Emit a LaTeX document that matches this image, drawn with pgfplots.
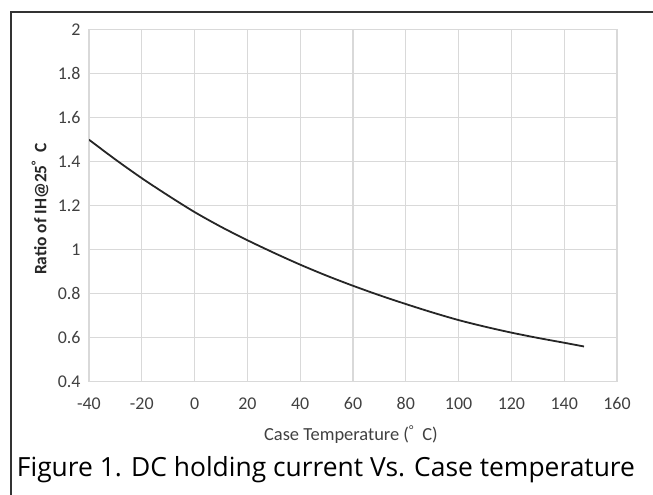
\documentclass[border=0pt]{standalone}
\usepackage{fontspec}
\setmainfont{Carlito}
\newfontfamily\capfont{Open Sans}
\usepackage{pgfplots}
\pgfplotsset{compat=1.18}
\definecolor{gridc}{HTML}{D9D9D9}
\definecolor{tickc}{HTML}{404040}
\begin{document}
\begin{tikzpicture}[x=1bp,y=1bp]
\useasboundingbox (0,0) rectangle (653,495);
\draw[line width=1.5bp, black!80] (11,0) -- (11,483) -- (653,483);
\begin{axis}[
  at={(89bp,113.3bp)}, anchor=south west,
  scale only axis, width=528bp, height=352bp,
  xmin=-40, xmax=160, ymin=0.4, ymax=2,
  xtick={-40,-20,...,160}, ytick={0.4,0.6,...,2.01},
  yticklabels={0.4,0.6,0.8,1,1.2,1.4,1.6,1.8,2},
  grid=major, major grid style={gridc, line width=1.3bp},
  axis line style={gridc, line width=1.3bp},
  tick style={draw=none},
  /pgf/number format/assume math mode=true,
  ticklabel style={font=\fontsize{18}{20}\selectfont, text=tickc},
  yticklabel style={xshift=-5bp},
  xticklabel style={anchor=center, text height=1.5ex, text depth=0pt, yshift=-24bp},
  xlabel={Case Temperature (\textsuperscript{°}\ \ C)},
  xlabel style={at={(axis description cs:0.496,-0.151)}, anchor=center, font=\fontsize{18.5}{22}\selectfont, text=tickc},
  ylabel={Ratio of IH@25\textsuperscript{°}\ \ C},
  ylabel style={at={(axis description cs:-0.0928,0.49)}, anchor=center, rotate=0, font=\bfseries\fontsize{17.5}{21}\selectfont, text=black!85},
]
\addplot[smooth, line width=1.8bp, color=black!85] coordinates {
(-40,1.500) (-30,1.410) (-20,1.325) (-10,1.246) (0,1.171) (10,1.104)
(20,1.043) (30,0.986) (40,0.932) (50,0.882) (60,0.836) (70,0.793) (80,0.753)
(90,0.715) (100,0.680) (110,0.650) (120,0.623) (130,0.599) (140,0.577) (147.5,0.560)
};
\end{axis}
\node[anchor=center] at (326,25) {\resizebox{618bp}{!}{\capfont Figure 1. DC holding current Vs. Case temperature}};
\end{tikzpicture}
\end{document}
